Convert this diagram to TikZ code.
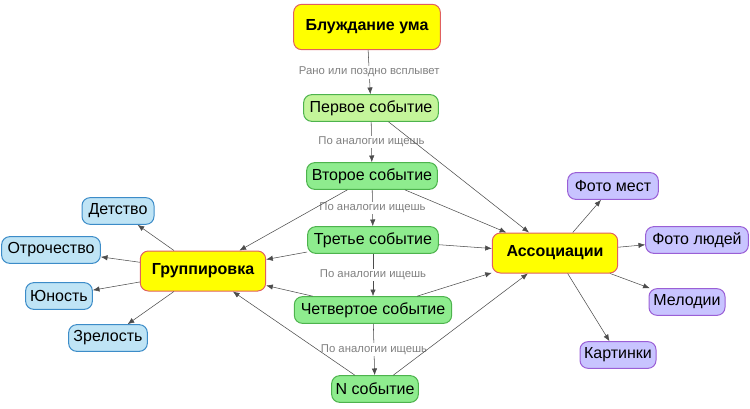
\documentclass[tikz,border=0pt]{standalone}
\usepackage{fontspec}
\setmainfont{Liberation Sans}
\usepackage{xcolor}
\usetikzlibrary{arrows.meta}

\definecolor{mainfill}{HTML}{FFFF00}
\definecolor{maindraw}{HTML}{E06060}
\definecolor{firstfill}{HTML}{C4F59A}
\definecolor{eventfill}{HTML}{8EEC8E}
\definecolor{eventdraw}{HTML}{4DB34D}
\definecolor{agefill}{HTML}{BFE4F5}
\definecolor{agedraw}{HTML}{3C8CC8}
\definecolor{assocfill}{HTML}{C8C4FF}
\definecolor{assocdraw}{HTML}{9A5FD6}

\begin{document}
\begin{tikzpicture}[
  x=0.75pt, y=-0.75pt,
  font=\fontsize{12pt}{14pt}\selectfont,
  box/.style={draw, rounded corners=6pt, line width=0.75pt, inner sep=2pt,
              text centered, minimum height=20pt},
  mainbox/.style={box, fill=mainfill, draw=maindraw, font=\fontsize{12pt}{14pt}\selectfont\bfseries},
  eventbox/.style={box, fill=eventfill, draw=eventdraw},
  agebox/.style={box, fill=agefill, draw=agedraw},
  assocbox/.style={box, fill=assocfill, draw=assocdraw},
  arrow/.style={-{Latex[length=5pt,width=4pt]}, line width=0.4pt, draw=gray!75, color=black!70},
  lbl/.style={fill=white, inner sep=1pt, text=black!50, font=\fontsize{8.5pt}{10pt}\selectfont}
]
\useasboundingbox (0,0) rectangle (750,408);

% chain of events
\node (wander) [mainbox, minimum width=110pt, minimum height=34pt] at (367,27) {Блуждание ума};
\node (first)  [eventbox, fill=firstfill, minimum width=101pt] at (371,108) {Первое событие};
\node (second) [eventbox, minimum width=98pt]  at (372,176) {Второе событие};
\node (third)  [eventbox, minimum width=98pt]  at (373,240) {Третье событие};
\node (fourth) [eventbox, minimum width=118pt] at (373,310) {Четвертое событие};
\node (nth)    [eventbox, minimum width=65pt]  at (375,389) {N событие};

% hubs
\node (group) [mainbox, minimum width=94pt, minimum height=30pt] at (203,271) {Группировка};
\node (assoc) [mainbox, minimum width=94pt, minimum height=30pt] at (555,253) {Ассоциации};

% ages
\node (child)  [agebox, minimum width=54pt] at (118,211) {Детство};
\node (teen)   [agebox, minimum width=74pt] at (51,250)  {Отрочество};
\node (youth)  [agebox, minimum width=50pt] at (59,296)  {Юность};
\node (mature) [agebox, minimum width=59pt] at (108,338) {Зрелость};

% associations
\node (places)   [assocbox, minimum width=68pt] at (613,186) {Фото мест};
\node (people)   [assocbox, minimum width=77pt] at (697,240) {Фото людей};
\node (melodies) [assocbox, minimum width=57pt] at (687,302) {Мелодии};
\node (pictures) [assocbox, minimum width=57pt] at (618,355) {Картинки};

\draw [arrow] (wander) -- (first) node[lbl, midway] {Рано или поздно всплывет};
\draw [arrow] (first)  -- (second) node[lbl, midway] {По аналогии ищешь};
\draw [arrow] (second) -- (third)  node[lbl, midway] {По аналогии ищешь};
\draw [arrow] (third)  -- (fourth) node[lbl, midway] {По аналогии ищешь};
\draw [arrow] (fourth) -- (nth)    node[lbl, midway] {По аналогии ищешь};

\foreach \ev in {first,second,third,fourth,nth}
  \draw [arrow] (\ev) -- (assoc);
\foreach \ev in {second,third,fourth,nth}
  \draw [arrow] (\ev) -- (group);

\foreach \age in {child,teen,youth,mature}
  \draw [arrow] (group) -- (\age);
\foreach \kind in {places,people,melodies,pictures}
  \draw [arrow] (assoc) -- (\kind);

\end{tikzpicture}
\end{document}
